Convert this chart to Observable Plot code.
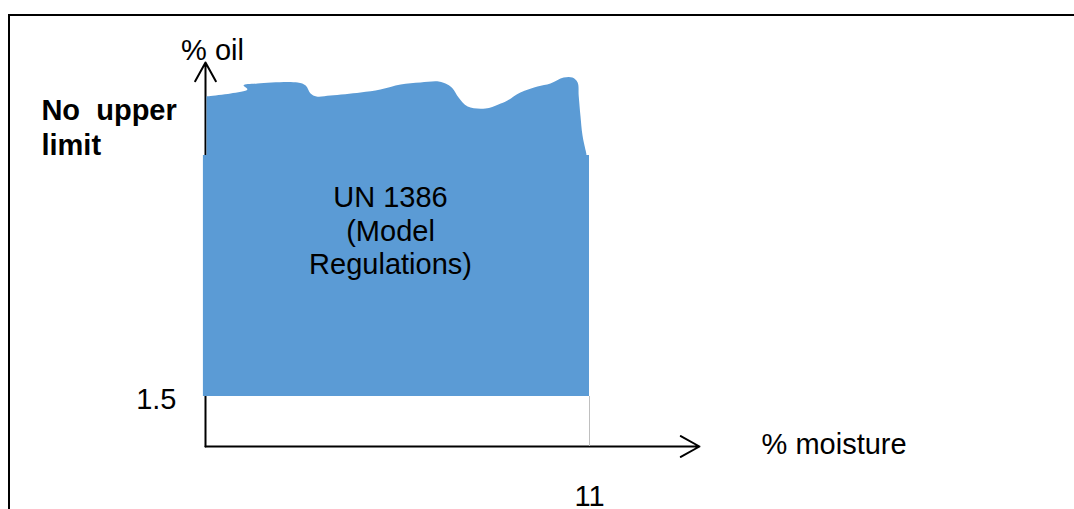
<!DOCTYPE html>
<html><head><meta charset="utf-8">
<script src="https://cdn.jsdelivr.net/npm/d3@7"></script>
<script src="https://cdn.jsdelivr.net/npm/@observablehq/plot@0.6"></script>
<style>
html,body{margin:0;padding:0;background:#fff;overflow:hidden;}
#wrap{position:relative;width:1074px;height:509px;overflow:hidden;}
#frame{position:absolute;left:8px;top:14px;width:1300px;height:700px;border:2px solid #000;box-sizing:border-box;}
#chart{position:absolute;left:0;top:0;}
</style></head><body>
<div id="wrap"><div id="frame"></div><div id="chart"></div></div>
<script>
// ---- data (units: x = % moisture, y = % oil, schematic) ----
const regionLabel = ["UN 1386\n(Model\nRegulations)"];
const upperLabel = ["No\u00a0\u00a0upper\nlimit"];
const yAxisLabel = ["% oil"];
const xAxisLabel = ["% moisture"];
const oilTicks = [1.5];
const moistureTicks = [11];
const regionBox = [{m0: -0.06, m1: 11, o0: 1.5, o1: 8.73}];
// wavy "no upper limit" top of the region (moisture, oil)
const wavyTop = [
  [0.03, 8.73], [0.03, 8.8], [0.03, 10.44], [0.03, 10.5], [0.1, 10.51], [0.72, 10.59],
  [1.2, 10.71], [1.09, 10.83], [1.49, 10.89],
  [2.64, 10.92], [2.87, 10.83], [3.01, 10.59], [3.18, 10.5], [3.58, 10.53], [4.44, 10.62],
  [5.01, 10.71], [5.59, 10.86], [6.16, 10.92], [6.68, 10.95], [6.93, 10.86], [7.08, 10.74],
  [7.25, 10.47], [7.51, 10.2], [8.02, 10.14], [8.39, 10.26], [8.65, 10.38], [9.02, 10.62],
  [9.51, 10.8], [9.88, 10.89], [10.26, 11.07], [10.51, 11.07], [10.66, 10.92], [10.69, 10.53],
  [10.74, 9.93], [10.8, 9.33], [10.89, 8.88], [10.91, 8.78], [10.91, 8.73]
];
const axisArrows = [
  {m0: 0, o0: 0, m1: 0, o1: 11.52},
  {m0: 0, o0: 0, m1: 14.15, o1: 0}
];

const blue = "#5B9BD5";
const fs = 29;
const chart = Plot.plot({
  width: 1074,
  height: 509,
  margin: 0,
  x: {domain: [0, 11], range: [205, 589], axis: null},
  y: {domain: [0, 1.5], range: [446, 396], axis: null},
  style: {fontFamily: "'Liberation Sans', Arial, sans-serif", fontSize: fs + "px", background: "transparent", color: "#000"},
  marks: [
    Plot.arrow(axisArrows, {x1: "m0", y1: "o0", x2: "m1", y2: "o1", stroke: "#000", strokeWidth: 2, headLength: 16, headAngle: 58}),
    Plot.ruleX(moistureTicks, {x: d => d, y1: 0, y2: 1.5, stroke: "#bfbfbf", strokeWidth: 1}),
    Plot.line(wavyTop, {x: d => d[0], y: d => d[1], fill: blue, stroke: "none", curve: "catmull-rom"}),
    Plot.rect(regionBox, {x1: "m0", x2: "m1", y1: "o0", y2: "o1", fill: blue}),
    Plot.text(regionLabel, {x: 5.3, y: 6.5, text: d => d, textAnchor: "middle", lineAnchor: "middle", lineHeight: 1.155, fontSize: fs, fill: "#000"}),
    Plot.text(upperLabel, {x: -4.7, y: 9.594, text: d => d, textAnchor: "start", lineAnchor: "middle", lineHeight: 1.207, fontSize: fs, fontWeight: "bold", fill: "#000"}),
    Plot.text(yAxisLabel, {x: 0.2, y: 11.88, text: d => d, textAnchor: "middle", lineAnchor: "middle", fontSize: fs, fill: "#000"}),
    Plot.text(xAxisLabel, {x: 15.93, y: 0, dy: -2, text: d => d, textAnchor: "start", lineAnchor: "middle", fontSize: fs, fill: "#000"}),
    Plot.text(oilTicks, {x: 0, y: d => d, dx: -29, dy: 3, text: d => String(d), textAnchor: "end", lineAnchor: "middle", fontSize: fs, fill: "#000"}),
    Plot.text(moistureTicks, {x: d => d, y: -1.5, text: d => String(d), textAnchor: "middle", lineAnchor: "middle", fontSize: fs, fill: "#000"})
  ]
});
document.getElementById("chart").appendChild(chart);
</script>
</body></html>
